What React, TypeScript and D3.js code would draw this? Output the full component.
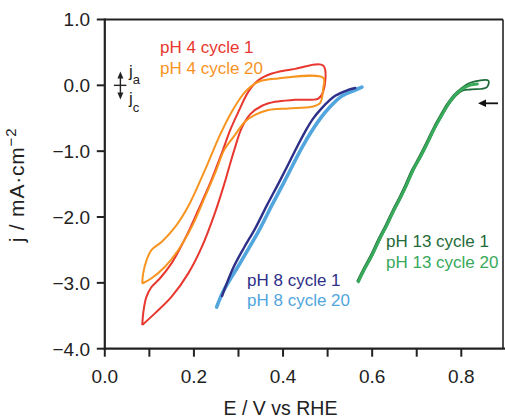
import React from "react";
import * as d3 from "d3";

// ---- data (E in V vs RHE, j in mA·cm^-2) ----
const pH4Cycle1: [number, number][] = [
  [0.084, -3.64], [0.087, -3.42], [0.093, -3.22], [0.104, -3.07], [0.124, -2.93], [0.15, -2.7],
  [0.18, -2.33], [0.21, -1.89], [0.238, -1.46], [0.263, -1.02], [0.282, -0.67], [0.3, -0.4],
  [0.322, -0.1], [0.345, 0.08], [0.375, 0.18], [0.427, 0.25], [0.49, 0.3],
  [0.49, -0.1], [0.479, -0.2], [0.427, -0.22], [0.382, -0.25], [0.353, -0.31], [0.326, -0.44],
  [0.307, -0.65], [0.292, -0.95], [0.28, -1.22], [0.268, -1.5], [0.247, -1.94], [0.218, -2.45],
  [0.187, -2.86], [0.15, -3.21], [0.113, -3.46], [0.084, -3.64],
];
const pH4Cycle20: [number, number][] = [
  [0.084, -3.01], [0.086, -2.86], [0.094, -2.65], [0.105, -2.5], [0.128, -2.375], [0.158, -2.15],
  [0.187, -1.84], [0.218, -1.39], [0.244, -0.98], [0.258, -0.76], [0.285, -0.4], [0.315, -0.1],
  [0.345, 0.055], [0.389, 0.105], [0.49, 0.115],
  [0.49, -0.05], [0.483, -0.27], [0.464, -0.325], [0.412, -0.35], [0.367, -0.375], [0.337, -0.45],
  [0.315, -0.55], [0.292, -0.755], [0.268, -0.98], [0.25, -1.29], [0.225, -1.69], [0.195, -2.15],
  [0.165, -2.5], [0.135, -2.755], [0.105, -2.93], [0.084, -3.01],
];
const pH8Cycle1: [number, number][] = [
  [0.263, -3.2], [0.288, -2.775], [0.312, -2.47], [0.337, -2.18], [0.364, -1.82], [0.389, -1.5],
  [0.411, -1.21], [0.431, -0.94], [0.449, -0.71], [0.467, -0.51], [0.487, -0.345], [0.517, -0.16],
  [0.546, -0.07], [0.562, -0.04],
];
const pH8Cycle20: [number, number][] = [
  [0.251, -3.367], [0.265, -3.139], [0.279, -2.972], [0.297, -2.775], [0.321, -2.5], [0.348, -2.18],
  [0.375, -1.82], [0.4, -1.5], [0.422, -1.21], [0.443, -0.94], [0.463, -0.71], [0.483, -0.51],
  [0.503, -0.345], [0.532, -0.163], [0.562, -0.071], [0.577, -0.026],
];
const pH13Cycle20: [number, number][] = [
  [0.569, -2.983], [0.584, -2.775], [0.6, -2.577], [0.618, -2.319], [0.633, -2.122], [0.649, -1.894],
  [0.663, -1.712], [0.678, -1.499], [0.692, -1.286], [0.708, -1.089], [0.724, -0.876], [0.739, -0.664],
  [0.755, -0.466], [0.771, -0.284], [0.786, -0.147], [0.802, -0.056], [0.82, 0.005], [0.836, 0.022],
];
const pH13Cycle1: [number, number][] = [
  [0.566, -2.98], [0.581, -2.775], [0.597, -2.577], [0.615, -2.319], [0.63, -2.122], [0.646, -1.894],
  [0.66, -1.712], [0.675, -1.499], [0.689, -1.286], [0.705, -1.089], [0.721, -0.876], [0.736, -0.664],
  [0.752, -0.466], [0.768, -0.284], [0.783, -0.147], [0.799, -0.05], [0.82, 0.039], [0.861, 0.07],
  [0.857, -0.03], [0.823, -0.061], [0.805, -0.075], [0.788, -0.155], [0.772, -0.29], [0.756, -0.47],
  [0.74, -0.664], [0.725, -0.876], [0.709, -1.089], [0.693, -1.286], [0.679, -1.499], [0.664, -1.712],
  [0.65, -1.894], [0.634, -2.122], [0.619, -2.319], [0.601, -2.577], [0.585, -2.775], [0.569, -2.983],
];

const xTickValues = [0, 0.1, 0.2, 0.3, 0.4, 0.5, 0.6, 0.7, 0.8];
const xTickLabels = ["0.0", "", "0.2", "", "0.4", "", "0.6", "", "0.8"];
const yTickValues = [1, 0, -1, -2, -3, -4];
const yTickLabels = ["1.0", "0.0", "\u22121.0", "\u22122.0", "\u22123.0", "\u22124.0"];

const legendLabels = [
  "pH 4 cycle 1", "pH 4 cycle 20", "pH 8 cycle 1", "pH 8 cycle 20", "pH 13 cycle 1", "pH 13 cycle 20",
];

const C = {
  red: "#e8372f",
  orange: "#f7941f",
  navy: "#2e2f88",
  blue: "#52a6dd",
  dgreen: "#1f6b39",
  green: "#39a95b",
  axis: "#222",
};

const FONT = "'Liberation Sans', Arial, Helvetica, sans-serif";

export default function App() {
  const W = 505, H = 418;
  const x = d3.scaleLinear().domain([0, 0.8936]).range([104.8, 503]);
  const y = d3.scaleLinear().domain([-4, 1]).range([348.7, 19.5]);
  const line = d3
    .line<[number, number]>()
    .x((d) => x(d[0]))
    .y((d) => y(d[1]))
    .curve(d3.curveCatmullRom.alpha(0.5));

  const x0 = x(0), x1 = x(0.8936), yTop = y(1), yBot = y(-4);

  const jArrowX = x(0.035);
  const jTop = y(0.21), jBot = y(-0.215);
  const rArrY = y(-0.273);
  const rArrTip = x(0.8375), rArrEnd = x(0.8824);

  return (
    <svg
      width={W}
      height={H}
      style={{ position: "absolute", left: 0, top: 0, background: "#fff" }}
      fontFamily={FONT}
    >
      {/* frame */}
      <line x1={x0} x2={x1} y1={yTop} y2={yTop} stroke={C.axis} strokeWidth={2} />
      <line x1={x1} x2={x1} y1={yTop} y2={yBot} stroke={C.axis} strokeWidth={1.6} />
      <line x1={x0} x2={x0} y1={yTop - 1} y2={yBot + 1} stroke={C.axis} strokeWidth={2.2} />
      <line x1={x0 - 1} x2={W} y1={yBot} y2={yBot} stroke={C.axis} strokeWidth={2.2} />

      {/* y ticks */}
      {yTickValues.map((v, i) => (
        <g key={"y" + i}>
          <line x1={x0 - 8} x2={x0} y1={y(v)} y2={y(v)} stroke={C.axis} strokeWidth={2} />
          <text x={90} y={y(v)} dy="0.36em" textAnchor="end" fontSize={19} fill="#222">
            {yTickLabels[i]}
          </text>
        </g>
      ))}
      {/* x ticks */}
      {xTickValues.map((v, i) => (
        <g key={"x" + i}>
          <line x1={x(v)} x2={x(v)} y1={yBot} y2={yBot + 8} stroke={C.axis} strokeWidth={2} />
          {xTickLabels[i] && (
            <text x={x(v)} y={383} textAnchor="middle" fontSize={19} fill="#222">
              {xTickLabels[i]}
            </text>
          )}
        </g>
      ))}

      {/* axis titles */}
      <text x={280.5} y={415} textAnchor="middle" fontSize={19.5} fill="#222">
        E / V vs RHE
      </text>
      <text transform="translate(24,185) rotate(-90)" textAnchor="middle" fontSize={21} fill="#222" letterSpacing={0.8}>
        j / mA·cm
        <tspan dy={-8} fontSize={15}>
          {"\u22122"}
        </tspan>
      </text>

      {/* curves */}
      <path d={line(pH4Cycle1) || ""} fill="none" stroke={C.red} strokeWidth={2} strokeLinejoin="round" />
      <path d={line(pH4Cycle20) || ""} fill="none" stroke={C.orange} strokeWidth={2} strokeLinejoin="round" />
      <path d={line(pH8Cycle20) || ""} fill="none" stroke={C.blue} strokeWidth={3.6} strokeLinecap="round" strokeLinejoin="round" />
      <path d={line(pH8Cycle1) || ""} fill="none" stroke={C.navy} strokeWidth={2.4} strokeLinecap="round" strokeLinejoin="round" />
      <path d={line(pH13Cycle1) || ""} fill="none" stroke={C.dgreen} strokeWidth={1.8} strokeLinejoin="round" />
      <path d={line(pH13Cycle20) || ""} fill="none" stroke={C.green} strokeWidth={3} strokeLinecap="round" strokeLinejoin="round" />

      {/* ja / jc annotation */}
      <line x1={jArrowX} x2={jArrowX} y1={jTop + 5} y2={jBot - 5} stroke="#222" strokeWidth={1.4} />
      <polygon points={`${jArrowX},${jTop} ${jArrowX - 3},${jTop + 7} ${jArrowX + 3},${jTop + 7}`} fill="#222" />
      <polygon points={`${jArrowX},${jBot} ${jArrowX - 3},${jBot - 7} ${jArrowX + 3},${jBot - 7}`} fill="#222" />
      <line x1={jArrowX - 6.5} x2={jArrowX + 6} y1={y(0)} y2={y(0)} stroke="#222" strokeWidth={1.4} />
      <text x={129} y={77} fontSize={17} fill="#222">
        j<tspan dy={7} fontSize={13}>a</tspan>
      </text>
      <text x={129} y={104} fontSize={17} fill="#222">
        j<tspan dy={8} fontSize={13}>c</tspan>
      </text>

      {/* scan-direction arrow */}
      <line x1={rArrEnd} x2={rArrTip + 6} y1={rArrY} y2={rArrY} stroke="#111" strokeWidth={1.8} />
      <polygon points={`${rArrTip},${rArrY} ${rArrTip + 8},${rArrY - 3.8} ${rArrTip + 8},${rArrY + 3.8}`} fill="#111" />

      {/* labels */}
      <text x={160} y={53} fontSize={17} fill={C.red}>{legendLabels[0]}</text>
      <text x={160} y={74} fontSize={17} fill={C.orange}>{legendLabels[1]}</text>
      <text x={247} y={285.5} fontSize={17} fill={C.navy}>{legendLabels[2]}</text>
      <text x={247} y={306} fontSize={17} fill={C.blue}>{legendLabels[3]}</text>
      <text x={386} y={247} fontSize={17} fill={C.dgreen}>{legendLabels[4]}</text>
      <text x={386} y={267.5} fontSize={17} fill={C.green}>{legendLabels[5]}</text>
    </svg>
  );
}
